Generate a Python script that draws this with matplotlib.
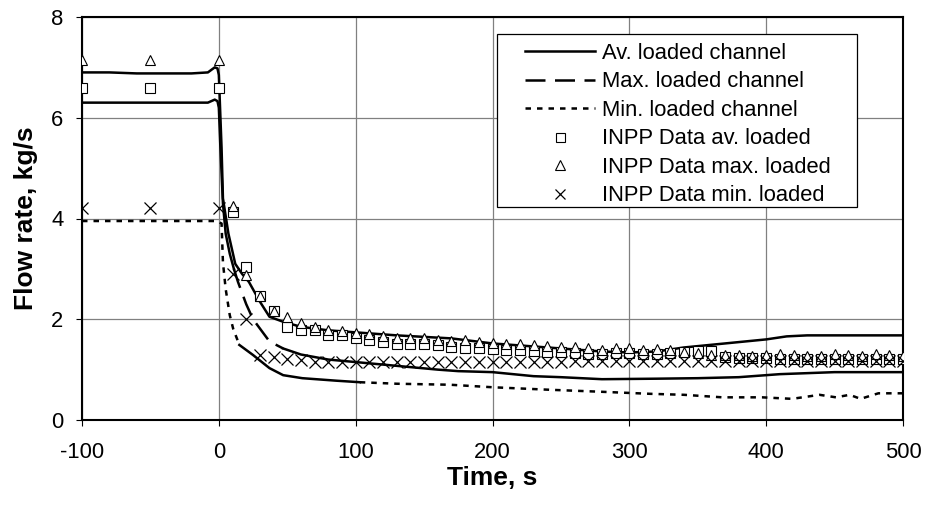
import numpy as np
import matplotlib
matplotlib.use("Agg")
import matplotlib.pyplot as plt
from matplotlib.lines import Line2D
from matplotlib.patches import Rectangle

plt.rcParams['font.family'] = ['Liberation Sans', 'DejaVu Sans']
plt.rcParams['axes.unicode_minus'] = False

# calculated curves (time, s / flow rate, kg/s)
t_av = [-100, -80, -60, -40, -20, -8, -3, -1, 0, 2, 3, 7, 12, 17, 22, 30, 37,
        47, 60, 80, 100, 130, 170, 200, 240, 280, 300, 320, 340, 370, 400,
        415, 430, 460, 500]
q_av = [6.9, 6.9, 6.88, 6.88, 6.88, 6.9, 7.0, 6.98, 6.85, 5.4, 4.4, 3.7,
        3.1, 2.9, 2.74, 2.35, 2.05, 1.95, 1.85, 1.78, 1.74, 1.68, 1.62, 1.52,
        1.44, 1.36, 1.34, 1.36, 1.44, 1.52, 1.6, 1.66, 1.68, 1.68, 1.68]

t_max = [-100, -60, -20, -8, -3, -1, 0, 1, 3, 5, 8, 11, 14, 20, 25, 37, 47,
         60, 80, 120, 160, 175, 200, 230, 250, 280, 320, 350, 380, 410, 450,
         500]
q_max = [6.3, 6.3, 6.3, 6.3, 6.36, 6.33, 6.2, 5.5, 4.3, 3.7, 3.3, 3.0, 2.74,
         2.3, 2.0, 1.56, 1.42, 1.3, 1.2, 1.1, 1.0, 0.97, 0.95, 0.87, 0.85,
         0.81, 0.82, 0.83, 0.85, 0.91, 0.95, 0.95]

t_min = [-100, -50, -10, -2, 0, 2, 3, 5, 8, 10.5, 15, 25, 37, 47, 61, 86,
         103, 130, 169, 200, 242, 280, 315, 340, 368, 397, 419, 439, 451, 461,
         469, 482, 500]
q_min = [3.95, 3.95, 3.95, 3.95, 3.93, 3.9, 3.13, 2.6, 2.08, 1.81, 1.49,
         1.29, 1.03, 0.89, 0.83, 0.78, 0.75, 0.72, 0.7, 0.65, 0.6, 0.56, 0.52,
         0.5, 0.45, 0.45, 0.42, 0.5, 0.45, 0.5, 0.42, 0.53, 0.53]

# INPP measured data
t_data = [-100, -50, 0] + list(range(10, 510, 10))
d_av = [6.6, 6.6, 6.6,
        4.12, 3.03, 2.47, 2.17, 1.85, 1.78, 1.78, 1.68, 1.68, 1.62,
        1.58, 1.55, 1.5, 1.5, 1.5, 1.48, 1.45, 1.43, 1.42, 1.4,
        1.38, 1.38, 1.36, 1.35, 1.35, 1.33, 1.32, 1.32, 1.33, 1.33,
        1.32, 1.32, 1.33, 1.35, 1.37, 1.37, 1.25, 1.24, 1.23, 1.23,
        1.22, 1.22, 1.22, 1.22, 1.22, 1.22, 1.22, 1.22, 1.22, 1.22]
d_max = [7.15, 7.15, 7.15,
         4.25, 2.87, 2.47, 2.17, 2.04, 1.93, 1.84, 1.78, 1.76, 1.72,
         1.7, 1.66, 1.62, 1.63, 1.62, 1.58, 1.57, 1.58, 1.55, 1.52,
         1.5, 1.5, 1.48, 1.47, 1.45, 1.45, 1.42, 1.38, 1.43, 1.43,
         1.38, 1.4, 1.38, 1.35, 1.33, 1.3, 1.3, 1.3, 1.28, 1.3,
         1.32, 1.3, 1.28, 1.28, 1.32, 1.3, 1.28, 1.32, 1.3, 1.28]
d_min = [4.2, 4.2, 4.2,
         2.9, 2.0, 1.29, 1.26, 1.22, 1.19, 1.16, 1.16, 1.16, 1.16,
         1.16, 1.16, 1.16, 1.16, 1.16, 1.16, 1.16, 1.16, 1.16, 1.16,
         1.16, 1.16, 1.16, 1.16, 1.16, 1.18, 1.18, 1.18, 1.18, 1.18,
         1.18, 1.18, 1.18, 1.18, 1.18, 1.18, 1.18, 1.18, 1.18, 1.18,
         1.18, 1.18, 1.18, 1.18, 1.18, 1.18, 1.18, 1.18, 1.18, 1.18]

fig = plt.figure(figsize=(9.27, 5.18), dpi=100)
ax = fig.add_axes([82 / 927, 1 - 420 / 518, 821 / 927, 403 / 518])

lw = 1.8
long_dash = (8, 3.8)
short_dash = (2.2, 2.4)

ax.plot(t_av, q_av, color='black', lw=lw, zorder=3)

# the long-dash curve looks solid where the points are dense, as in the original
tm = np.array(t_max)
qm = np.array(q_max)
seg = (tm >= 11) & (tm <= 47)
ax.plot(tm[tm <= 11], qm[tm <= 11], color='black', lw=lw, zorder=3)
ax.plot(tm[seg], qm[seg], color='black', lw=lw, dashes=long_dash, zorder=3)
ax.plot(tm[tm >= 47], qm[tm >= 47], color='black', lw=lw, zorder=3)

tn = np.array(t_min)
qn = np.array(q_min)
ax.plot(tn[tn <= 15], qn[tn <= 15], color='black', lw=lw, dashes=short_dash, zorder=3)
mid = (tn >= 15) & (tn <= 103)
ax.plot(tn[mid], qn[mid], color='black', lw=lw, zorder=3)
ax.plot(tn[tn >= 103], qn[tn >= 103], color='black', lw=lw, dashes=short_dash, zorder=3)

ax.plot(t_data, d_av, ls='none', marker='s', ms=7.2, mfc='white', mec='black', mew=0.8, zorder=4)
ax.plot(t_data, d_max, ls='none', marker='^', ms=7.7, mfc='white', mec='black', mew=0.8, zorder=4)
ax.plot(t_data, d_min, ls='none', marker='x', ms=8.6, mec='black', mew=0.9, zorder=4)

ax.set_xlim(-100, 500)
ax.set_ylim(0, 8)
ax.set_xticks(range(-100, 501, 100))
ax.set_yticks(range(0, 9, 2))
ax.grid(True, color='#808080', lw=0.9)
ax.set_axisbelow(True)
for s in ax.spines.values():
    s.set_linewidth(1.5)
ax.tick_params(direction='out', length=4.5, width=0.8, labelsize=15.8)
ax.tick_params(axis='x', pad=11)
ax.tick_params(axis='y', pad=9)

ax.set_xlabel('Time, s', fontsize=19, fontweight='bold')
ax.set_ylabel('Flow rate, kg/s', fontsize=19, fontweight='bold')
ax.xaxis.set_label_coords(0.5, (420 - 478) / 403)
ax.xaxis.label.set_va('center')
ax.yaxis.set_label_coords((26 - 82) / 821, 0.5)
ax.yaxis.label.set_va('center')

# legend box drawn separately so the padding matches the original
fig.patches.append(Rectangle((497 / 927, 1 - 207 / 518), 360 / 927, 173 / 518,
                             transform=fig.transFigure, facecolor='white',
                             edgecolor='black', lw=0.9, zorder=4.5))

handles = [
    Line2D([], [], color='black', lw=lw),
    Line2D([], [], color='black', lw=lw, dashes=long_dash),
    Line2D([], [], color='black', lw=lw, dashes=short_dash),
    Line2D([], [], ls='none', marker='s', ms=7.2, mfc='white', mec='black', mew=0.8),
    Line2D([], [], ls='none', marker='^', ms=7.7, mfc='white', mec='black', mew=0.8),
    Line2D([], [], ls='none', marker='x', ms=8.6, mec='black', mew=0.9),
]
labels = ['Av. loaded channel', 'Max. loaded channel', 'Min. loaded channel',
          'INPP Data av. loaded', 'INPP Data max. loaded', 'INPP Data min. loaded']
leg = fig.legend(handles, labels, loc='upper left',
                 bbox_to_anchor=(525 / 927, 1 - 43 / 518),
                 bbox_transform=fig.transFigure, frameon=False,
                 fontsize=15.8, borderpad=0, borderaxespad=0,
                 handlelength=3.2, handletextpad=0.3, labelspacing=0.34,
                 markerscale=0.9)
leg.set_zorder(5)

fig.savefig('out.png', dpi=100)
